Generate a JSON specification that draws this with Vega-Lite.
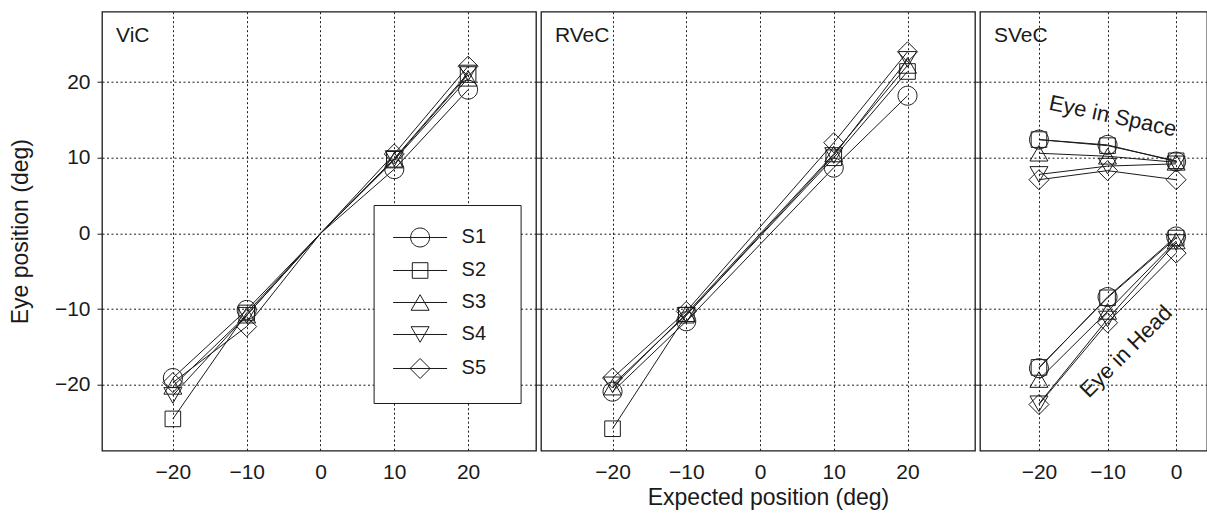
{
  "$schema": "https://vega.github.io/schema/vega-lite/v6.json",
  "padding": {"left": 8, "top": 10.7, "right": 0, "bottom": 0},
  "bounds": "flush",
  "spacing": 5,
  "config": {
    "font": "Liberation Sans",
    "view": {"stroke": "#1a1a1a", "strokeWidth": 1.3},
    "axis": {"labelFontSize": 21, "titleFontSize": 23, "titleFontWeight": "normal", "labelColor": "#1a1a1a", "titleColor": "#1a1a1a", "domain": false, "grid": true, "gridColor": "#1a1a1a", "gridDash": [2, 2.5], "gridWidth": 1, "gridOpacity": 1, "tickColor": "#1a1a1a", "tickSize": 5, "labelFont": "Liberation Sans", "titleFont": "Liberation Sans"},
    "title": {"fontSize": 21, "fontWeight": "normal", "anchor": "start", "frame": "group", "dx": 14, "offset": -34, "baseline": "alphabetic", "color": "#1a1a1a", "font": "Liberation Sans"}
  },
  "datasets": {
    "d": [
      {"p": "ViC", "s": "S1", "g": "a", "x": -20, "y": -19.1},
      {"p": "ViC", "s": "S1", "g": "a", "x": -10, "y": -10.1},
      {"p": "ViC", "s": "S1", "g": "a", "x": 0, "y": 0},
      {"p": "ViC", "s": "S1", "g": "a", "x": 10, "y": 8.5},
      {"p": "ViC", "s": "S1", "g": "a", "x": 20, "y": 19.0},
      {"p": "ViC", "s": "S2", "g": "a", "x": -20, "y": -24.5},
      {"p": "ViC", "s": "S2", "g": "a", "x": -10, "y": -10.5},
      {"p": "ViC", "s": "S2", "g": "a", "x": 0, "y": 0},
      {"p": "ViC", "s": "S2", "g": "a", "x": 10, "y": 9.8},
      {"p": "ViC", "s": "S2", "g": "a", "x": 20, "y": 21.0},
      {"p": "ViC", "s": "S3", "g": "a", "x": -20, "y": -20.2},
      {"p": "ViC", "s": "S3", "g": "a", "x": -10, "y": -10.8},
      {"p": "ViC", "s": "S3", "g": "a", "x": 0, "y": 0},
      {"p": "ViC", "s": "S3", "g": "a", "x": 10, "y": 9.7},
      {"p": "ViC", "s": "S3", "g": "a", "x": 20, "y": 20.5},
      {"p": "ViC", "s": "S4", "g": "a", "x": -20, "y": -21.4},
      {"p": "ViC", "s": "S4", "g": "a", "x": -10, "y": -10.8},
      {"p": "ViC", "s": "S4", "g": "a", "x": 0, "y": 0},
      {"p": "ViC", "s": "S4", "g": "a", "x": 10, "y": 9.9},
      {"p": "ViC", "s": "S4", "g": "a", "x": 20, "y": 21.2},
      {"p": "ViC", "s": "S5", "g": "a", "x": -20, "y": -19.7},
      {"p": "ViC", "s": "S5", "g": "a", "x": -10, "y": -12.3},
      {"p": "ViC", "s": "S5", "g": "a", "x": 0, "y": 0},
      {"p": "ViC", "s": "S5", "g": "a", "x": 10, "y": 10.5},
      {"p": "ViC", "s": "S5", "g": "a", "x": 20, "y": 22.1},

      {"p": "RVeC", "s": "S1", "g": "a", "x": -20, "y": -20.9},
      {"p": "RVeC", "s": "S1", "g": "a", "x": -10, "y": -11.6},
      {"p": "RVeC", "s": "S1", "g": "a", "x": 10, "y": 8.7},
      {"p": "RVeC", "s": "S1", "g": "a", "x": 20, "y": 18.2},
      {"p": "RVeC", "s": "S2", "g": "a", "x": -20, "y": -25.8},
      {"p": "RVeC", "s": "S2", "g": "a", "x": -10, "y": -10.8},
      {"p": "RVeC", "s": "S2", "g": "a", "x": 10, "y": 10.0},
      {"p": "RVeC", "s": "S2", "g": "a", "x": 20, "y": 21.4},
      {"p": "RVeC", "s": "S3", "g": "a", "x": -20, "y": -20.3},
      {"p": "RVeC", "s": "S3", "g": "a", "x": -10, "y": -10.6},
      {"p": "RVeC", "s": "S3", "g": "a", "x": 10, "y": 10.5},
      {"p": "RVeC", "s": "S3", "g": "a", "x": 20, "y": 22.2},
      {"p": "RVeC", "s": "S4", "g": "a", "x": -20, "y": -20.0},
      {"p": "RVeC", "s": "S4", "g": "a", "x": -10, "y": -10.8},
      {"p": "RVeC", "s": "S4", "g": "a", "x": 10, "y": 10.3},
      {"p": "RVeC", "s": "S4", "g": "a", "x": 20, "y": 23.0},
      {"p": "RVeC", "s": "S5", "g": "a", "x": -20, "y": -19.1},
      {"p": "RVeC", "s": "S5", "g": "a", "x": -10, "y": -10.3},
      {"p": "RVeC", "s": "S5", "g": "a", "x": 10, "y": 12.0},
      {"p": "RVeC", "s": "S5", "g": "a", "x": 20, "y": 24.0},

      {"p": "SVeC", "s": "S1", "g": "space", "x": -20, "y": 12.4},
      {"p": "SVeC", "s": "S1", "g": "space", "x": -10, "y": 11.7},
      {"p": "SVeC", "s": "S1", "g": "space", "x": 0, "y": 9.5},
      {"p": "SVeC", "s": "S2", "g": "space", "x": -20, "y": 12.4},
      {"p": "SVeC", "s": "S2", "g": "space", "x": -10, "y": 11.6},
      {"p": "SVeC", "s": "S2", "g": "space", "x": 0, "y": 9.6},
      {"p": "SVeC", "s": "S3", "g": "space", "x": -20, "y": 10.6},
      {"p": "SVeC", "s": "S3", "g": "space", "x": -10, "y": 10.2},
      {"p": "SVeC", "s": "S3", "g": "space", "x": 0, "y": 9.4},
      {"p": "SVeC", "s": "S4", "g": "space", "x": -20, "y": 7.8},
      {"p": "SVeC", "s": "S4", "g": "space", "x": -10, "y": 8.9},
      {"p": "SVeC", "s": "S4", "g": "space", "x": 0, "y": 9.2},
      {"p": "SVeC", "s": "S5", "g": "space", "x": -20, "y": 7.1},
      {"p": "SVeC", "s": "S5", "g": "space", "x": -10, "y": 8.3},
      {"p": "SVeC", "s": "S5", "g": "space", "x": 0, "y": 7.1},
      {"p": "SVeC", "s": "S1", "g": "head", "x": -20, "y": -17.8},
      {"p": "SVeC", "s": "S1", "g": "head", "x": -10, "y": -8.4},
      {"p": "SVeC", "s": "S1", "g": "head", "x": 0, "y": -0.4},
      {"p": "SVeC", "s": "S2", "g": "head", "x": -20, "y": -17.7},
      {"p": "SVeC", "s": "S2", "g": "head", "x": -10, "y": -8.5},
      {"p": "SVeC", "s": "S2", "g": "head", "x": 0, "y": -0.6},
      {"p": "SVeC", "s": "S3", "g": "head", "x": -20, "y": -19.3},
      {"p": "SVeC", "s": "S3", "g": "head", "x": -10, "y": -10.3},
      {"p": "SVeC", "s": "S3", "g": "head", "x": 0, "y": -1.0},
      {"p": "SVeC", "s": "S4", "g": "head", "x": -20, "y": -22.5},
      {"p": "SVeC", "s": "S4", "g": "head", "x": -10, "y": -11.3},
      {"p": "SVeC", "s": "S4", "g": "head", "x": 0, "y": -1.2},
      {"p": "SVeC", "s": "S5", "g": "head", "x": -20, "y": -22.6},
      {"p": "SVeC", "s": "S5", "g": "head", "x": -10, "y": -11.8},
      {"p": "SVeC", "s": "S5", "g": "head", "x": 0, "y": -2.6}
    ]
  },
  "resolve": {"scale": {"shape": "independent"}, "legend": {"shape": "independent"}},
  "hconcat": [
    {
      "width": 434, "height": 439,
      "title": {"text": "ViC"},
      "data": {"name": "d"},
      "transform": [{"filter": "datum.p == 'ViC'"}],
      "encoding": {
        "x": {"field": "x", "type": "quantitative", "scale": {"domain": [-29.6, 29.2], "nice": false, "zero": false},
              "axis": {"values": [-20, -10, 0, 10, 20], "ticks": false, "labelPadding": 11, "title": null}},
        "y": {"field": "y", "type": "quantitative", "scale": {"domain": [-28.7, 29.3], "nice": false, "zero": false},
              "axis": {"values": [-20, -10, 0, 10, 20], "title": "Eye position (deg)", "titlePadding": 22, "labelPadding": 7}}
      },
      "resolve": {"scale": {"shape": "independent"}},
      "layer": [
        {"mark": {"type": "line", "stroke": "#1a1a1a", "strokeWidth": 1},
         "encoding": {"detail": [{"field": "s"}, {"field": "g"}]}},
        {"transform": [{"filter": "datum.x != 0"}],
         "mark": {"type": "point", "filled": false, "stroke": "#1a1a1a", "strokeWidth": 1, "size": 400, "opacity": 1},
         "encoding": {"shape": {"field": "s", "type": "nominal", "legend": null,
           "scale": {"domain": ["S1", "S2", "S3", "S4", "S5"],
                     "range": ["M0.95,0A0.95,0.95,0,1,1,-0.95,0A0.95,0.95,0,1,1,0.95,0Z", "M-0.78,-0.78H0.78V0.78H-0.78Z", "M0,-0.78L0.9,0.78L-0.9,0.78Z", "M0,0.78L0.9,-0.78L-0.9,-0.78Z", "M0,-1L1,0L0,1L-1,0Z"]}}}},
        {"transform": [{"filter": "false"}],
         "mark": {"type": "point", "filled": false, "stroke": "#1a1a1a", "strokeWidth": 1, "size": 400, "opacity": 1},
         "encoding": {"shape": {"field": "s", "type": "nominal",
           "scale": {"domain": ["S1", "S2", "S3", "S4", "S5"],
                     "range": ["M-2.7,0H2.7M0.95,0A0.95,0.95,0,1,1,-0.95,0A0.95,0.95,0,1,1,0.95,0ZM7.6,0", "M-2.7,0H2.7M-0.78,-0.78H0.78V0.78H-0.78ZM7.6,0", "M-2.7,0H2.7M0,-0.78L0.9,0.78L-0.9,0.78ZM7.6,0", "M-2.7,0H2.7M0,0.78L0.9,-0.78L-0.9,-0.78ZM7.6,0", "M-2.7,0H2.7M0,-1L1,0L0,1L-1,0ZM7.6,0"]},
           "legend": {"orient": "none", "legendX": 271.6, "legendY": 193.3, "title": null, "padding": 22,
                      "strokeColor": "#1a1a1a", "fillColor": "white", "labelFontSize": 20, "labelFont": "Liberation Sans", "labelColor": "#1a1a1a",
                      "labelOffset": 31, "symbolOffset": 14, "rowPadding": 11, "symbolSize": 400, "symbolStrokeWidth": 1, "symbolStrokeColor": "#1a1a1a", "symbolFillColor": "transparent"}}}}
      ]
    },
    {
      "width": 434, "height": 439,
      "title": {"text": "RVeC"},
      "data": {"name": "d"},
      "transform": [{"filter": "datum.p == 'RVeC'"}],
      "encoding": {
        "x": {"field": "x", "type": "quantitative", "scale": {"domain": [-29.7, 29.15], "nice": false, "zero": false},
              "axis": {"values": [-20, -10, 0, 10, 20], "ticks": false, "labelPadding": 11, "title": "Expected position (deg)", "titleX": 227, "titlePadding": 4}},
        "y": {"field": "y", "type": "quantitative", "scale": {"domain": [-28.7, 29.3], "nice": false, "zero": false},
              "axis": {"values": [-20, -10, 0, 10, 20], "labels": false, "title": null}}
      },
      "layer": [
        {"mark": {"type": "line", "stroke": "#1a1a1a", "strokeWidth": 1},
         "encoding": {"detail": [{"field": "s"}, {"field": "g"}]}},
        {"mark": {"type": "point", "filled": false, "stroke": "#1a1a1a", "strokeWidth": 1, "size": 400, "opacity": 1},
         "encoding": {"shape": {"field": "s", "type": "nominal", "legend": null,
           "scale": {"domain": ["S1", "S2", "S3", "S4", "S5"],
                     "range": ["M0.95,0A0.95,0.95,0,1,1,-0.95,0A0.95,0.95,0,1,1,0.95,0Z", "M-0.78,-0.78H0.78V0.78H-0.78Z", "M0,-0.78L0.9,0.78L-0.9,0.78Z", "M0,0.78L0.9,-0.78L-0.9,-0.78Z", "M0,-1L1,0L0,1L-1,0Z"]}}}}
      ]
    },
    {
      "width": 227, "height": 439,
      "title": {"text": "SVeC"},
      "layer": [
        {"data": {"name": "d"},
         "transform": [{"filter": "datum.p == 'SVeC'"}],
         "mark": {"type": "line", "stroke": "#1a1a1a", "strokeWidth": 1},
         "encoding": {
           "x": {"field": "x", "type": "quantitative", "scale": {"domain": [-28.6, 4.5], "nice": false, "zero": false},
                 "axis": {"values": [-20, -10, 0], "ticks": false, "labelPadding": 11, "title": null}},
           "y": {"field": "y", "type": "quantitative", "scale": {"domain": [-28.7, 29.3], "nice": false, "zero": false},
                 "axis": {"values": [-20, -10, 0, 10, 20], "labels": false, "title": null}},
           "detail": [{"field": "s"}, {"field": "g"}]}},
        {"data": {"name": "d"},
         "transform": [{"filter": "datum.p == 'SVeC'"}],
         "mark": {"type": "point", "filled": false, "stroke": "#1a1a1a", "strokeWidth": 1, "size": 400, "opacity": 1},
         "encoding": {
           "x": {"field": "x", "type": "quantitative"},
           "y": {"field": "y", "type": "quantitative"},
           "shape": {"field": "s", "type": "nominal", "legend": null,
           "scale": {"domain": ["S1", "S2", "S3", "S4", "S5"],
                     "range": ["M0.95,0A0.95,0.95,0,1,1,-0.95,0A0.95,0.95,0,1,1,0.95,0Z", "M-0.78,-0.78H0.78V0.78H-0.78Z", "M0,-0.78L0.9,0.78L-0.9,0.78Z", "M0,0.78L0.9,-0.78L-0.9,-0.78Z", "M0,-1L1,0L0,1L-1,0Z"]}}}},
        {"data": {"values": [{"t": "Eye in Space"}]},
         "mark": {"type": "text", "angle": 12, "fontSize": 22, "color": "#1a1a1a", "align": "center", "baseline": "middle"},
         "encoding": {"x": {"datum": -9.24, "type": "quantitative"}, "y": {"datum": 15.5, "type": "quantitative"}, "text": {"field": "t"}}},
        {"data": {"values": [{"t": "Eye in Head"}]},
         "mark": {"type": "text", "angle": -45, "fontSize": 22, "color": "#1a1a1a", "align": "center", "baseline": "middle"},
         "encoding": {"x": {"datum": -7.3, "type": "quantitative"}, "y": {"datum": -15.6, "type": "quantitative"}, "text": {"field": "t"}}}
      ]
    }
  ]
}
